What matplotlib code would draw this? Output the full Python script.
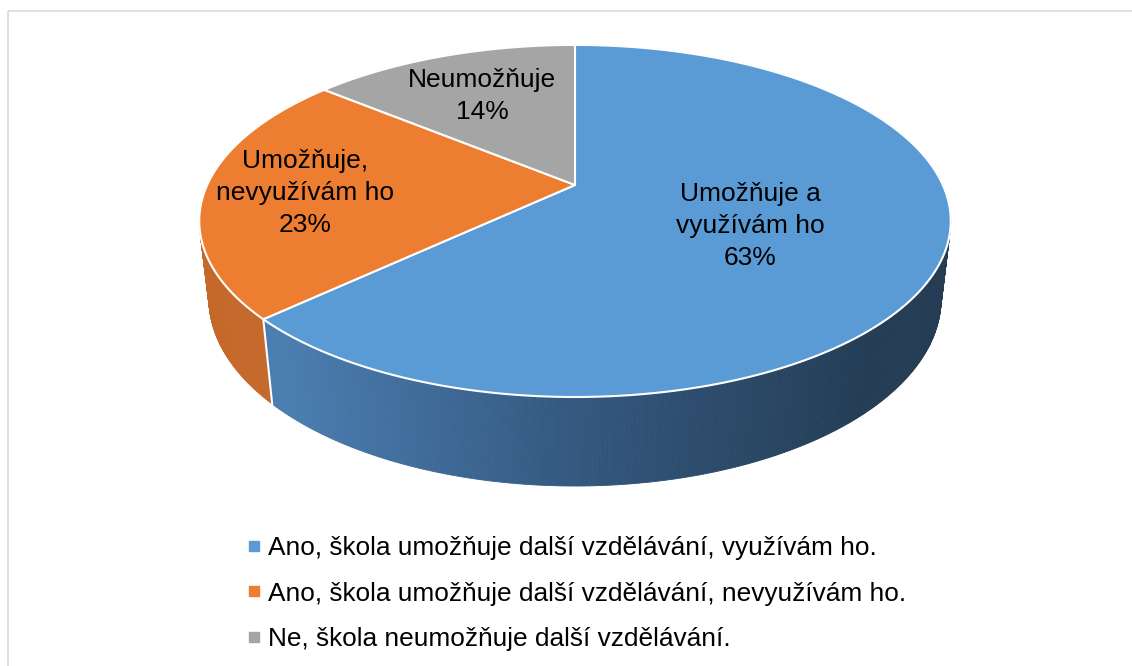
import numpy as np
import matplotlib.pyplot as plt
from matplotlib.patches import Polygon, Rectangle
from matplotlib.lines import Line2D
from matplotlib.colors import to_rgb

plt.rcParams['font.family'] = ['Liberation Sans', 'DejaVu Sans']

# data
shares = [63, 23, 14]
slice_labels = ["Umožňuje a\nvyužívám ho", "Umožňuje,\nnevyužívám ho", "Neumožňuje"]
legend_labels = [
    "Ano, škola umožňuje další vzdělávání, využívám ho.",
    "Ano, škola umožňuje další vzdělávání, nevyužívám ho.",
    "Ne, škola neumožňuje další vzdělávání.",
]
top_colors = ["#5b9bd5", "#ed7d31", "#a5a5a5"]

# 3d view (pixel space)
cx, cy = 575, 185
scale = 1600
phi = np.radians(27.3)
dist = 4.35
height = 0.24


def proj(theta, z):
    u = np.cos(theta)
    v = -np.sin(theta)
    depth = dist - v * np.cos(phi) - z * np.sin(phi)
    x = cx + scale * u / depth
    y = cy + scale * (v * np.sin(phi) - z * np.cos(phi)) / depth
    return x, y


def side_color(i, x):
    if i == 0:
        xs = [290, 575, 865]
        cols = np.array([to_rgb("#4a7db0"), to_rgb("#34587f"), to_rgb("#243d55")])
        return tuple(np.interp(x, xs, cols[:, k]) for k in range(3))
    if i == 1:
        return to_rgb("#c5692b")
    return to_rgb("#7c7c7c")


fig = plt.figure(figsize=(11.32, 6.66), dpi=100)
ax = fig.add_axes([0, 0, 1, 1])
ax.set_xlim(0, 1132)
ax.set_ylim(666, 0)
ax.axis("off")

# chart border
ax.add_patch(Rectangle((8, 11), 1140, 700, fill=False, edgecolor="#d9d9d9", lw=1.2))

# slice angles, clockwise from 12 o'clock
bounds = 90 - 360 * np.concatenate([[0], np.cumsum(shares)]) / sum(shares)
bounds = np.radians(bounds)

# side strips, back to front
strips = []
for i in range(len(shares)):
    a0, a1 = bounds[i], bounds[i + 1]
    n = max(int(abs(a1 - a0) / np.radians(0.5)), 2)
    th = np.linspace(a0, a1, n + 1)
    for t1, t2 in zip(th[:-1], th[1:]):
        p1 = proj(t1, 0)
        p2 = proj(t2, 0)
        p3 = proj(t2, -height)
        p4 = proj(t1, -height)
        vmid = -np.sin((t1 + t2) / 2)
        strips.append((vmid, i, [p1, p2, p3, p4]))
strips.sort(key=lambda s: s[0])
for vmid, i, pts in strips:
    c = side_color(i, np.mean([p[0] for p in pts]))
    ax.add_patch(Polygon(pts, closed=True, facecolor=c, edgecolor=c, lw=0.6, zorder=1))

# white edge on the side where slices meet
for b in bounds:
    if -np.sin(b) > 0:
        x0, y0 = proj(b, 0)
        x1, y1 = proj(b, -height)
        ax.plot([x0, x1], [y0, y1], color="white", lw=1.5, zorder=2)

# top faces
for i in range(len(shares)):
    th = np.linspace(bounds[i], bounds[i + 1], 200)
    xs, ys = proj(th, 0)
    pts = [(cx, cy)] + list(zip(xs, ys))
    ax.add_patch(Polygon(pts, closed=True, facecolor=top_colors[i], edgecolor="white",
                         lw=1.5, joinstyle="round", zorder=3))

# data labels
label_pos = [(750, 226), (305, 193), (482, 96)]
for lab, s, (lx, ly) in zip(slice_labels, shares, label_pos):
    ax.text(lx, ly, f"{lab}\n{s}%", ha="center", va="center", fontsize=19,
            color="#000000", linespacing=1.4, zorder=5)

# legend
handles = [Line2D([], [], marker="s", linestyle="none", markersize=7,
                  markerfacecolor=c, markeredgecolor=c) for c in top_colors]
ax.legend(handles, legend_labels, loc="upper left", bbox_to_anchor=(247 / 1132, 1 - 536 / 666),
          frameon=False, fontsize=18.9, handlelength=0.5, handletextpad=0.3,
          labelspacing=0.82, borderpad=0, borderaxespad=0)

fig.savefig("out.png", dpi=100)
